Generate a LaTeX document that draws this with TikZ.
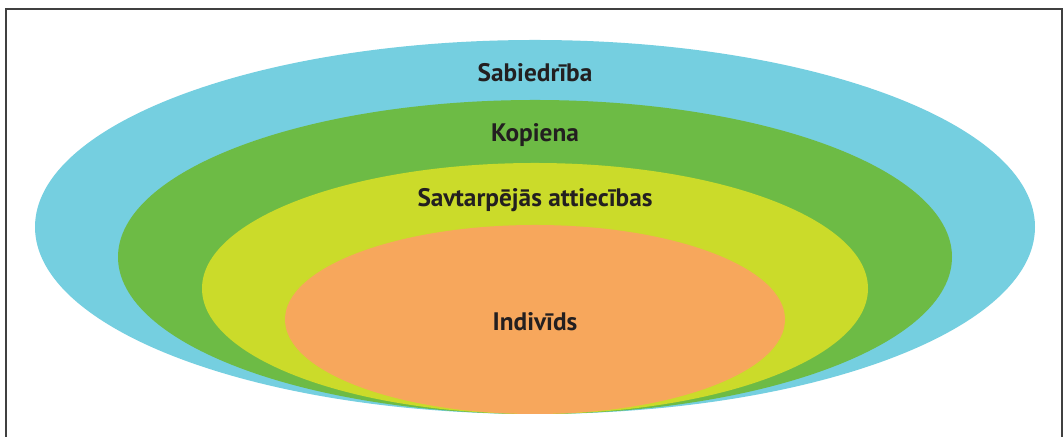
\documentclass[tikz,border=0pt]{standalone}
\usepackage{fontspec}
\setmainfont{PT Sans}
\usetikzlibrary{shapes.geometric}
\definecolor{sabcol}{HTML}{75CFE0}
\definecolor{kopcol}{HTML}{6DBB45}
\definecolor{savcol}{HTML}{CBDB2A}
\definecolor{indcol}{HTML}{F7A75C}
\definecolor{txtcol}{HTML}{231F20}
\begin{document}
\begin{tikzpicture}[
  ring/.style={ellipse, draw=none, inner sep=0pt},
  lbl/.style={text=txtcol, font=\bfseries\fontsize{18}{20}\selectfont}
]
\useasboundingbox (0,0) rectangle (26.6,10.925);
\fill[white] (0,0) rectangle (26.6,10.925);
\draw[line width=1.3pt, black!75] (0.15,-0.1) -- (0.15,10.7) -- (26.55,10.7) -- (26.55,-0.1);

\node[ring, fill=sabcol, minimum width=25cm, minimum height=9.35cm] (sab) at (13.375,5.25) {};
\node[ring, fill=kopcol, minimum width=20.85cm, minimum height=7.85cm] (kop) at (13.375,4.5) {};
\node[ring, fill=savcol, minimum width=16.65cm, minimum height=6.275cm] (sav) at (13.375,3.7125) {};
\node[ring, fill=indcol, minimum width=12.5cm, minimum height=4.725cm] (ind) at (13.375,2.9375) {};

\node[lbl] (sabtxt) at (13.375,9.1) {Sabiedrība};
\node[lbl] (koptxt) at (13.375,7.55) {Kopiena};
\node[lbl] (savtxt) at (13.375,5.925) {Savtarpējās attiecības};
\node[lbl] (indtxt) at (13.375,2.875) {Indivīds};
\end{tikzpicture}
\end{document}
